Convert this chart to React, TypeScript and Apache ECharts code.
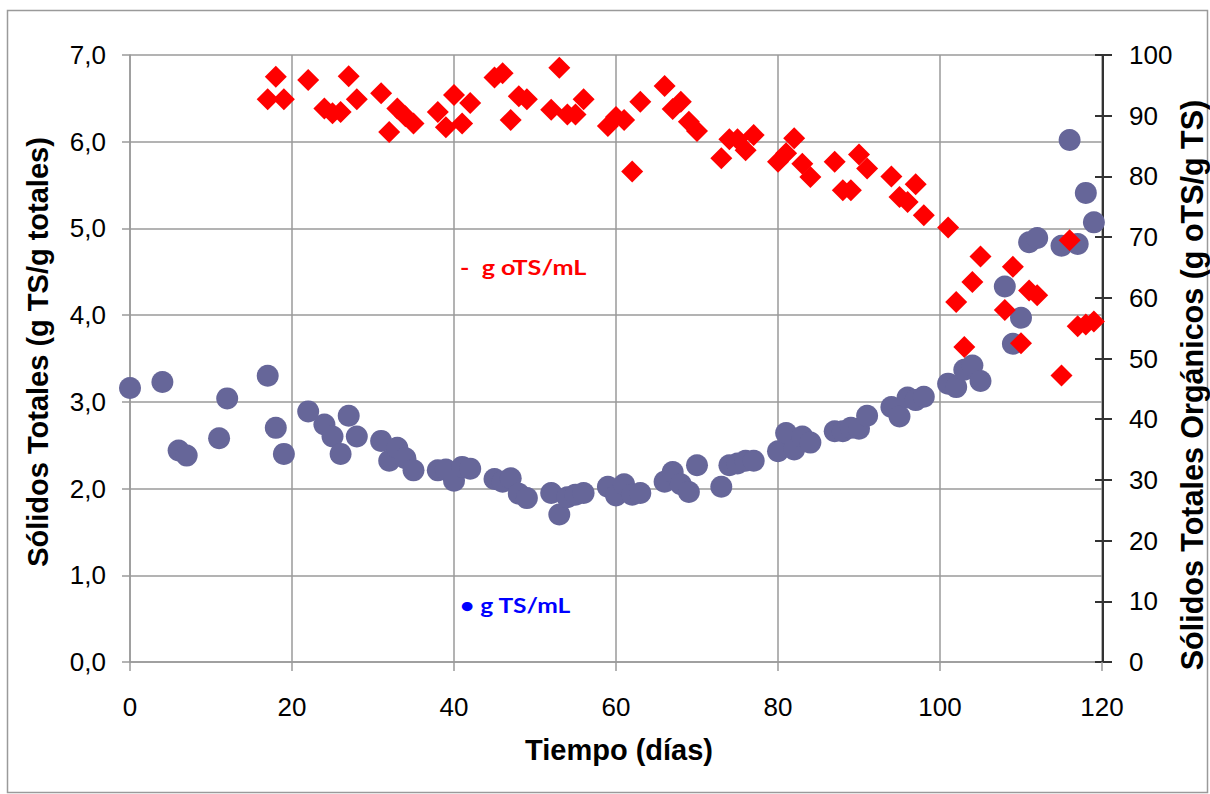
import React, { useEffect, useRef } from "react";
import * as echarts from "echarts";

// Tiempo (días) for the total solids series
const tsDays = [0, 4, 6, 7, 11, 12, 17, 18, 19, 22, 24, 25, 26, 27, 28, 31, 32, 33, 34, 35, 38, 39, 40, 41, 42, 45, 46, 47, 48, 49, 52, 53, 54, 55, 56, 59, 60, 61, 62, 63, 66, 67, 68, 69, 70, 73, 74, 75, 76, 77, 80, 81, 82, 83, 84, 87, 88, 89, 90, 91, 94, 95, 96, 97, 98, 101, 102, 103, 104, 105, 108, 109, 110, 111, 112, 115, 116, 117, 118, 119];
// g TS/mL (left axis)
const tsValues = [3.16, 3.23, 2.44, 2.38, 2.58, 3.04, 3.3, 2.7, 2.4, 2.89, 2.74, 2.6, 2.4, 2.84, 2.6, 2.55, 2.32, 2.47, 2.35, 2.21, 2.21, 2.22, 2.09, 2.25, 2.23, 2.11, 2.08, 2.12, 1.94, 1.89, 1.95, 1.7, 1.9, 1.93, 1.95, 2.02, 1.92, 2.05, 1.93, 1.95, 2.08, 2.19, 2.05, 1.96, 2.27, 2.02, 2.27, 2.29, 2.32, 2.32, 2.43, 2.64, 2.45, 2.6, 2.53, 2.66, 2.66, 2.7, 2.69, 2.84, 2.94, 2.83, 3.05, 3.02, 3.06, 3.21, 3.17, 3.37, 3.42, 3.24, 4.33, 3.67, 3.97, 4.84, 4.89, 4.8, 6.02, 4.82, 5.41, 5.07];

// Tiempo (días) for the organic solids series
const otsDays = [17, 18, 19, 22, 24, 25, 26, 27, 28, 31, 32, 33, 34, 35, 38, 39, 40, 41, 42, 45, 46, 47, 48, 49, 52, 53, 54, 55, 56, 59, 60, 61, 62, 63, 66, 67, 68, 69, 70, 73, 74, 75, 76, 77, 80, 81, 82, 83, 84, 87, 88, 89, 90, 91, 94, 95, 96, 97, 98, 101, 102, 103, 104, 105, 108, 109, 110, 111, 112, 115, 116, 117, 118, 119];
// g oTS/mL (right axis, %)
const otsValues = [92.7, 96.4, 92.7, 95.9, 91.2, 90.4, 90.6, 96.5, 92.7, 93.7, 87.3, 91.2, 89.9, 88.7, 90.6, 88.1, 93.4, 88.7, 92.1, 96.3, 97.0, 89.3, 93.2, 92.7, 91.0, 97.9, 90.2, 90.2, 92.7, 88.3, 89.8, 89.3, 80.8, 92.3, 94.9, 91.1, 92.3, 89.0, 87.5, 83.0, 86.1, 86.1, 84.3, 86.8, 82.4, 83.8, 86.3, 82.1, 79.9, 82.4, 77.7, 77.7, 83.6, 81.3, 80.0, 76.6, 75.8, 78.7, 73.6, 71.6, 59.3, 51.9, 62.6, 66.8, 58.0, 65.1, 52.5, 61.2, 60.4, 47.2, 69.5, 55.3, 55.6, 56.1];

const xTitle = "Tiempo (días)";
const yLeftTitle = "Sólidos Totales (g TS/g totales)";
const yRightTitle = "Sólidos Totales Orgánicos (g oTS/g TS)";
const otsLabel = "-  g oTS/mL";
const tsLabel = "• g TS/mL";

export default function App() {
  const ref = useRef<HTMLDivElement>(null);
  useEffect(() => {
    if (!ref.current) return;
    const chart = echarts.init(ref.current, null, { renderer: "svg" });
    const gridColor = "#9a9a9a";
    const labelFont = { fontFamily: "Liberation Sans, Arial, sans-serif", fontSize: 26, color: "#000" };
    const titleFont = "bold 29px 'Liberation Sans', Arial, sans-serif";
    chart.setOption({
      animation: false,
      backgroundColor: "#fff",
      grid: { left: 130, right: 108, top: 55, bottom: 132, containLabel: false },
      xAxis: {
        type: "value",
        min: 0,
        max: 120,
        interval: 20,
        axisLine: { show: true, lineStyle: { color: gridColor, width: 1.5 } },
        axisTick: { show: true, length: 9, lineStyle: { color: gridColor, width: 1.5 } },
        splitLine: { show: true, lineStyle: { color: gridColor, width: 1.5 } },
        axisLabel: { ...labelFont, margin: 32 },
      },
      yAxis: [
        {
          type: "value",
          position: "left",
          min: 0,
          max: 7,
          interval: 1,
          axisLine: { show: true, lineStyle: { color: gridColor, width: 1.5 } },
          axisTick: { show: true, length: 8, lineStyle: { color: gridColor, width: 1.5 } },
          splitLine: { show: true, lineStyle: { color: gridColor, width: 1.5 } },
          axisLabel: { ...labelFont, margin: 24, formatter: (v: number) => v.toFixed(1).replace(".", ",") },
        },
        {
          type: "value",
          position: "right",
          offset: 1,
          min: 0,
          max: 100,
          interval: 10,
          axisLine: { show: true, lineStyle: { color: "#333", width: 2 } },
          axisTick: { show: true, length: 9, lineStyle: { color: "#333", width: 2 } },
          splitLine: { show: false },
          axisLabel: { ...labelFont, margin: 26 },
        },
        {
          type: "value",
          position: "right",
          offset: 1,
          min: 0,
          max: 100,
          interval: 10,
          axisLine: { show: false },
          axisTick: { show: true, inside: true, length: 8, lineStyle: { color: "#333", width: 2 } },
          splitLine: { show: false },
          axisLabel: { show: false },
        },
      ],
      series: [
        {
          type: "scatter",
          name: "g TS/mL",
          yAxisIndex: 0,
          symbol: "circle",
          symbolSize: 22,
          itemStyle: { color: "#666699", opacity: 1 },
          data: tsDays.map((d, i) => [d, tsValues[i]]),
        },
        {
          type: "scatter",
          name: "g oTS/mL",
          yAxisIndex: 1,
          symbol: "diamond",
          symbolSize: 22,
          itemStyle: { color: "#ff0000", opacity: 1 },
          data: otsDays.map((d, i) => [d, otsValues[i]]),
        },
      ],
      graphic: [
        {
          type: "rect",
          shape: { x: 7.5, y: 10.5, width: 1200, height: 782 },
          style: { fill: "none", stroke: "#9a9a9a", lineWidth: 1.5 },
          silent: true,
          z: -10,
        },
        {
          type: "text",
          x: 38,
          y: 352,
          rotation: Math.PI / 2,
          style: {
            text: yLeftTitle,
            font: titleFont,
            fill: "#000",
            textAlign: "center",
            textVerticalAlign: "middle",
          },
        },
        {
          type: "text",
          x: 1192,
          y: 385,
          rotation: Math.PI / 2,
          style: {
            text: yRightTitle,
            font: "bold 30.5px 'Liberation Sans', Arial, sans-serif",
            fill: "#000",
            textAlign: "center",
            textVerticalAlign: "middle",
          },
        },
        {
          type: "text",
          x: 619,
          y: 750,
          style: {
            text: xTitle,
            font: titleFont,
            fill: "#000",
            textAlign: "center",
            textVerticalAlign: "middle",
          },
        },
        {
          type: "text",
          x: 460,
          y: 267,
          scaleX: 1.2,
          style: {
            text: otsLabel,
            font: "bold 21px Lato, 'Noto Sans', sans-serif",
            fill: "#ff0000",
            textAlign: "left",
            textVerticalAlign: "middle",
          },
        },
        {
          type: "text",
          x: 460,
          y: 605,
          scaleX: 1.17,
          style: {
            text: tsLabel,
            font: "bold 21px Lato, 'Noto Sans', sans-serif",
            fill: "#0000ff",
            textAlign: "left",
            textVerticalAlign: "middle",
          },
        },
      ],
    });
    return () => chart.dispose();
  }, []);
  return (
    <div
      ref={ref}
      style={{ position: "fixed", left: 0, top: 0, width: 1210, height: 794, background: "#fff" }}
    />
  );
}
